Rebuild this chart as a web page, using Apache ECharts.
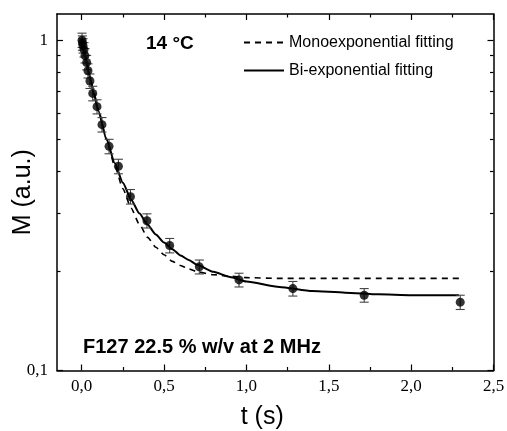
<!DOCTYPE html>
<html>
<head>
<meta charset="utf-8">
<script src="https://cdn.jsdelivr.net/npm/echarts@6/dist/echarts.min.js"></script>
<style>html,body{margin:0;padding:0;background:#fff;}#c{width:507px;height:431px;}</style>
</head>
<body>
<div id="c"></div>
<script>
// Measured data (time in s, normalized magnetization)
const tData = [0.002, 0.004, 0.008, 0.014, 0.020, 0.030, 0.038, 0.050, 0.067, 0.093, 0.123, 0.166, 0.223, 0.296, 0.396, 0.534, 0.714, 0.955, 1.282, 1.715, 2.298];
const mData = [1.000, 0.981, 0.962, 0.936, 0.898, 0.856, 0.808, 0.752, 0.690, 0.629, 0.555, 0.477, 0.415, 0.336, 0.284, 0.239, 0.206, 0.188, 0.177, 0.169, 0.161];
const mErr  = [0.050, 0.049, 0.048, 0.047, 0.045, 0.043, 0.040, 0.038, 0.035, 0.031, 0.028, 0.024, 0.021, 0.017, 0.014, 0.012, 0.010, 0.009, 0.009, 0.008, 0.008];

// Fit curves
const fitT    = [0, 0.025, 0.05, 0.075, 0.1, 0.15, 0.2, 0.25, 0.3, 0.35, 0.4, 0.45, 0.5, 0.55, 0.6, 0.65, 0.7, 0.8, 0.9, 1.0, 1.2, 1.4, 1.6, 1.8, 2.0, 2.29];
const monoFit = [1.000, 0.881, 0.779, 0.692, 0.618, 0.502, 0.417, 0.355, 0.310, 0.277, 0.253, 0.236, 0.224, 0.214, 0.208, 0.203, 0.199, 0.195, 0.193, 0.191, 0.190, 0.190, 0.190, 0.190, 0.190, 0.190];
const biFit   = [1.000, 0.875, 0.770, 0.684, 0.612, 0.503, 0.425, 0.370, 0.329, 0.299, 0.276, 0.258, 0.244, 0.233, 0.223, 0.216, 0.209, 0.199, 0.192, 0.186, 0.179, 0.174, 0.172, 0.170, 0.169, 0.169];

// Tick values
const xMajor = [0, 0.5, 1.0, 1.5, 2.0, 2.5];
const xMinor = [0.25, 0.75, 1.25, 1.75, 2.25];
const yMajor = [0.1, 1];
const yMinor = [0.2, 0.3, 0.4, 0.5, 0.6, 0.7, 0.8, 0.9];

const seriesNames = ['Monoexponential fitting', 'Bi-exponential fitting'];
const sans = '"Liberation Sans", Arial, sans-serif';
const serif = '"Liberation Serif", "Times New Roman", serif';

const X_MIN = -0.15, X_MAX = 2.5, Y_MIN = 0.1, Y_MAX = 1.2;
const axisLineStyle = { color: '#000', width: 1.5 };

function xAx(pos, ticks, len, withLabel, showLine) {
  const a = {
    type: 'value', min: X_MIN, max: X_MAX, position: pos,
    axisLine: { show: showLine, onZero: false, lineStyle: axisLineStyle },
    axisTick: { show: true, inside: true, length: len, customValues: ticks, lineStyle: { color: '#000', width: 1.2 } },
    axisLabel: { show: withLabel },
    splitLine: { show: false }
  };
  if (withLabel) {
    a.axisLabel = { show: true, customValues: ticks, margin: 8, color: '#000', fontFamily: serif, fontSize: 17,
      formatter: v => v.toFixed(1).replace('.', ',') };
    a.name = 't (s)';
    a.nameLocation = 'middle';
    a.nameGap = 34;
    a.nameMoveOverlap = false;
    a.nameTextStyle = { fontFamily: sans, fontSize: 25, color: '#000', padding: [0, 26, 0, 0] };
  }
  return a;
}
function yAx(pos, ticks, len, withLabel, showLine) {
  const a = {
    type: 'log', logBase: 10, min: Y_MIN, max: Y_MAX, position: pos,
    axisLine: { show: showLine, onZero: false, lineStyle: axisLineStyle },
    axisTick: { show: true, inside: true, length: len, customValues: ticks, lineStyle: { color: '#000', width: 1.2 } },
    axisLabel: { show: withLabel },
    splitLine: { show: false }, minorTick: { show: false }
  };
  if (withLabel) {
    a.axisLabel = { show: true, customValues: ticks, margin: 9, color: '#000', fontFamily: serif, fontSize: 17,
      formatter: v => (v >= 0.99 ? '1' : '0,1') };
    a.name = 'M (a.u.)';
    a.nameLocation = 'middle';
    a.nameGap = 21;
    a.nameMoveOverlap = false;
    a.nameTextStyle = { fontFamily: sans, fontSize: 25, color: '#000' };
  }
  return a;
}

const scatterData = tData.map((t, i) => [t, mData[i]]);
const errData = tData.map((t, i) => [t, mData[i] - mErr[i], mData[i] + mErr[i]]);

const chart = echarts.init(document.getElementById('c'), null, { renderer: 'canvas' });
chart.setOption({
  animation: false,
  backgroundColor: '#fff',
  grid: { left: 57, right: 13.5, top: 14, bottom: 60.5, containLabel: false, outerBoundsMode: 'none' },
  legend: {
    data: seriesNames, orient: 'vertical', left: 238, top: 29.5, itemWidth: 40, itemHeight: 14, itemGap: 12,
    textStyle: { fontFamily: sans, fontSize: 16, color: '#000' },
    itemStyle: { color: 'rgba(0,0,0,0)', borderColor: 'rgba(0,0,0,0)', borderWidth: 0 }
  },
  xAxis: [
    xAx('bottom', xMajor, 6, true, true),
    xAx('bottom', xMinor, 3.5, false, false),
    xAx('top', xMajor, 6, false, true),
    xAx('top', xMinor, 3.5, false, false)
  ],
  yAxis: [
    yAx('left', yMajor, 6, true, true),
    yAx('left', yMinor, 3.5, false, false),
    yAx('right', yMajor, 6, false, true),
    yAx('right', yMinor, 3.5, false, false)
  ],
  graphic: [
    { type: 'text', left: 146, top: 34, style: { text: '14 °C', fontFamily: sans, fontSize: 19, fontWeight: 'bold', fill: '#000' } },
    { type: 'text', left: 83, top: 337, style: { text: 'F127 22.5 % w/v at 2 MHz', fontFamily: sans, fontSize: 20, fontWeight: 'bold', fill: '#000' } }
  ],
  series: [
    {
      name: seriesNames[0], type: 'line', data: fitT.map((t, i) => [t, monoFit[i]]),
      smooth: 0.2, smoothMonotone: 'x', symbol: 'none', z: 2,
      lineStyle: { color: '#000', width: 1.6, type: [6, 5] }, itemStyle: { color: '#000' }
    },
    {
      name: seriesNames[1], type: 'line', data: fitT.map((t, i) => [t, biFit[i]]),
      smooth: 0.2, smoothMonotone: 'x', symbol: 'none', z: 2,
      lineStyle: { color: '#000', width: 2 }, itemStyle: { color: '#000' }
    },
    {
      name: 'err', type: 'custom', data: errData, z: 3,
      encode: { x: 0, y: [1, 2] },
      renderItem: function (params, api) {
        const x = api.value(0);
        const lo = api.coord([x, api.value(1)]);
        const hi = api.coord([x, api.value(2)]);
        const cw = 4.5;
        const st = { stroke: '#444', lineWidth: 1.1 };
        return {
          type: 'group', children: [
            { type: 'line', shape: { x1: lo[0], y1: lo[1], x2: hi[0], y2: hi[1] }, style: st },
            { type: 'line', shape: { x1: lo[0] - cw, y1: lo[1], x2: lo[0] + cw, y2: lo[1] }, style: st },
            { type: 'line', shape: { x1: hi[0] - cw, y1: hi[1], x2: hi[0] + cw, y2: hi[1] }, style: st }
          ]
        };
      }
    },
    {
      name: 'data', type: 'scatter', data: scatterData, symbol: 'circle', symbolSize: 9, z: 4,
      itemStyle: { color: '#000' }
    }
  ]
});
</script>
</body>
</html>
